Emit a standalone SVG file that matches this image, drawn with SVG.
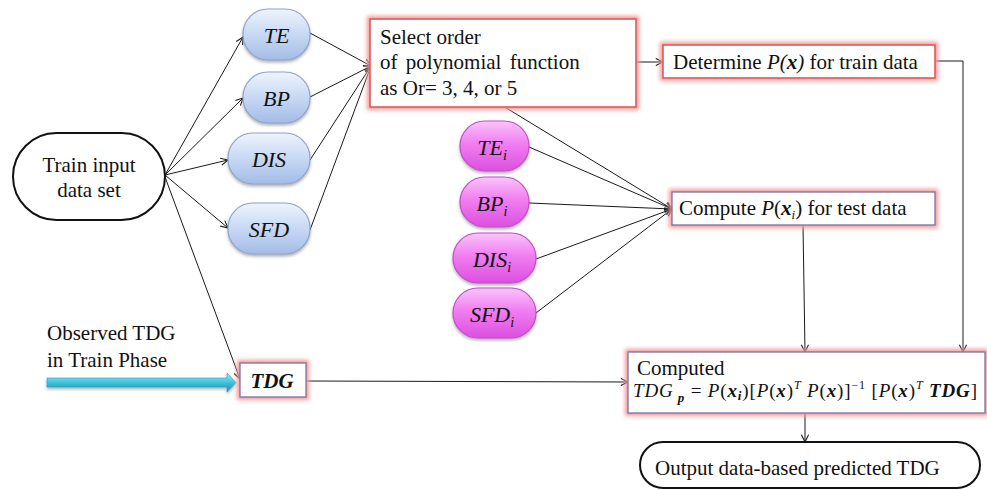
<svg xmlns="http://www.w3.org/2000/svg" width="987" height="490" viewBox="0 0 987 490" font-family="'Liberation Serif', 'Times New Roman', Times, 'DejaVu Serif', serif">
  <defs>
    <style>
      text { font-family: 'Liberation Serif', 'Times New Roman', Times, 'DejaVu Serif', serif; fill: #111; }
      .lbl { font-size: 21px; }
      .var { font-size: 22px; font-style: italic; text-anchor: middle; }
      .it { font-style: italic; }
      .bi { font-style: italic; font-weight: bold; }
      .edge { fill: none; stroke: #1a1a1a; stroke-width: 1; }
      .halo { fill: none; stroke: #f29a9a; stroke-width: 6; filter: url(#blur); }
      .boxR { fill: #fff; stroke: #dd5b5b; stroke-width: 1.6; }
      .boxP { fill: #fff; stroke: #7f6f9e; stroke-width: 1.3; }
      .term { fill: #fff; stroke: #111; stroke-width: 2; }
      .pillB { fill: url(#gBlue); stroke: #8ea4cc; stroke-width: 1.2; filter: url(#shadow); }
      .pillM { fill: url(#gMag); stroke: #c24fc4; stroke-width: 1.2; filter: url(#shadow); }
    </style>
    <linearGradient id="gBlue" x1="0" y1="0" x2="0" y2="1">
      <stop offset="0" stop-color="#eef4fd"/>
      <stop offset="0.45" stop-color="#cbdbf5"/>
      <stop offset="1" stop-color="#a3bce6"/>
    </linearGradient>
    <linearGradient id="gMag" x1="0" y1="0" x2="0" y2="1">
      <stop offset="0" stop-color="#fbc4fb"/>
      <stop offset="0.45" stop-color="#f17ef1"/>
      <stop offset="1" stop-color="#dc4fdf"/>
    </linearGradient>
    <linearGradient id="gCyan" x1="0" y1="0" x2="0" y2="1">
      <stop offset="0" stop-color="#a6ecf7"/>
      <stop offset="0.5" stop-color="#3fc2de"/>
      <stop offset="1" stop-color="#1f8fb0"/>
    </linearGradient>
    <filter id="blur" x="-20%" y="-40%" width="140%" height="180%">
      <feGaussianBlur stdDeviation="2.2"/>
    </filter>
    <filter id="shadow" x="-20%" y="-20%" width="140%" height="150%">
      <feDropShadow dx="0" dy="2" stdDeviation="1.5" flood-color="#555" flood-opacity="0.45"/>
    </filter>
    <marker id="arr" viewBox="0 0 10 10" refX="9" refY="5" markerWidth="9" markerHeight="9" markerUnits="userSpaceOnUse" orient="auto">
      <path d="M1,1 L9,5 L1,9" fill="none" stroke="#1a1a1a" stroke-width="1.2"/>
    </marker>
  </defs>

  <!-- connectors -->
  <g id="connectors">
    <line class="edge" x1="165" y1="175" x2="243" y2="37" marker-end="url(#arr)"/>
    <line class="edge" x1="165" y1="175" x2="243" y2="98" marker-end="url(#arr)"/>
    <line class="edge" x1="165" y1="175" x2="228" y2="160" marker-end="url(#arr)"/>
    <line class="edge" x1="165" y1="175" x2="228" y2="228" marker-end="url(#arr)"/>
    <line class="edge" x1="165" y1="177" x2="240" y2="379" marker-end="url(#arr)"/>

    <line class="edge" x1="310" y1="33" x2="371" y2="66" marker-end="url(#arr)"/>
    <line class="edge" x1="310" y1="97" x2="371" y2="66" marker-end="url(#arr)"/>
    <line class="edge" x1="310" y1="160" x2="371" y2="66" marker-end="url(#arr)"/>
    <line class="edge" x1="310" y1="230" x2="371" y2="66" marker-end="url(#arr)"/>

    <line class="edge" x1="636" y1="62" x2="663" y2="62" marker-end="url(#arr)"/>
    <polyline class="edge" points="935,61 963,61 963,352" marker-end="url(#arr)"/>

    <line class="edge" x1="503" y1="106" x2="672" y2="209" marker-end="url(#arr)"/>
    <line class="edge" x1="529" y1="147" x2="672" y2="209" marker-end="url(#arr)"/>
    <line class="edge" x1="529" y1="203" x2="672" y2="209" marker-end="url(#arr)"/>
    <line class="edge" x1="536" y1="259" x2="672" y2="209" marker-end="url(#arr)"/>
    <line class="edge" x1="536" y1="313" x2="672" y2="209" marker-end="url(#arr)"/>

    <line class="edge" x1="803" y1="225" x2="805" y2="352" marker-end="url(#arr)"/>
    <line class="edge" x1="306" y1="381" x2="628" y2="382" marker-end="url(#arr)"/>
    <line class="edge" x1="805" y1="413" x2="805" y2="442" marker-end="url(#arr)"/>

    <!-- thick input arrow for the observed TDG -->
    <path d="M47,378 L227,378 L227,373 L236,382.5 L227,392 L227,387 L47,387 Z" fill="url(#gCyan)" stroke="#2a9cbc" stroke-width="0.6" filter="url(#shadow)"/>
  </g>

  <!-- start terminal -->
  <g id="train-input">
    <rect class="term" x="13" y="133" width="152" height="87" rx="43.5"/>
    <text class="lbl" x="89" y="172" text-anchor="middle">Train input</text>
    <text class="lbl" x="89" y="197" text-anchor="middle">data set</text>
  </g>

  <!-- training variables -->
  <g id="te">
    <rect class="pillB" x="243" y="9" width="67" height="51" rx="25"/>
    <text class="var" x="276.5" y="43">TE</text>
  </g>
  <g id="bp">
    <rect class="pillB" x="243" y="72" width="67" height="51" rx="25"/>
    <text class="var" x="276.5" y="106">BP</text>
  </g>
  <g id="dis">
    <rect class="pillB" x="228" y="133" width="82" height="51" rx="25"/>
    <text class="var" x="269" y="167">DIS</text>
  </g>
  <g id="sfd">
    <rect class="pillB" x="228" y="203" width="82" height="51" rx="25"/>
    <text class="var" x="269" y="237">SFD</text>
  </g>

  <!-- polynomial order selection -->
  <g id="select-order">
    <rect class="halo" x="370" y="19" width="266" height="88"/>
    <rect class="boxR" x="370" y="19" width="266" height="88"/>
    <text class="lbl" x="380" y="44">Select order</text>
    <text class="lbl" x="380" y="69" word-spacing="3">of polynomial function</text>
    <text class="lbl" x="380" y="95">as Or= 3, 4, or 5</text>
  </g>

  <g id="determine">
    <rect class="halo" x="663" y="45" width="272" height="33"/>
    <rect class="boxR" x="663" y="45" width="272" height="33"/>
    <text class="lbl" x="673" y="69">Determine <tspan class="it">P(</tspan><tspan class="bi">x</tspan><tspan class="it">)</tspan>  for train data</text>
  </g>

  <!-- test variables -->
  <g id="te-i">
    <rect class="pillM" x="460" y="121" width="69" height="50" rx="25"/>
    <text class="var" x="492" y="155">TE<tspan font-size="14" dy="5">i</tspan></text>
  </g>
  <g id="bp-i">
    <rect class="pillM" x="460" y="177" width="69" height="50" rx="25"/>
    <text class="var" x="492" y="211">BP<tspan font-size="14" dy="5">i</tspan></text>
  </g>
  <g id="dis-i">
    <rect class="pillM" x="453" y="233" width="83" height="50" rx="25"/>
    <text class="var" x="492" y="267">DIS<tspan font-size="14" dy="5">i</tspan></text>
  </g>
  <g id="sfd-i">
    <rect class="pillM" x="453" y="288" width="83" height="50" rx="25"/>
    <text class="var" x="492" y="322">SFD<tspan font-size="14" dy="5">i</tspan></text>
  </g>

  <g id="compute">
    <rect class="halo" x="672" y="192" width="263" height="33"/>
    <rect class="boxP" x="672" y="192" width="263" height="33"/>
    <text class="lbl" x="679" y="215">Compute <tspan class="it">P</tspan>(<tspan class="bi">x</tspan><tspan class="it" font-size="13" dy="4">i</tspan><tspan dy="-4">) for test data</tspan></text>
  </g>

  <!-- observed target -->
  <g id="observed-label">
    <text class="lbl" x="47" y="340">Observed TDG</text>
    <text class="lbl" x="47" y="367">in Train Phase</text>
  </g>
  <g id="tdg">
    <rect class="halo" x="240" y="363" width="66" height="34"/>
    <rect class="boxP" x="240" y="363" width="66" height="34"/>
    <text class="bi" x="272" y="388" font-size="21" text-anchor="middle">TDG</text>
  </g>

  <!-- prediction -->
  <g id="computed">
    <rect class="halo" x="628" y="352" width="357" height="61"/>
    <rect class="boxP" x="628" y="352" width="357" height="61"/>
    <text class="lbl" x="637" y="375">Computed</text>
    <text x="633" y="397" font-size="19" textLength="344" lengthAdjust="spacing"><tspan class="it">TDG</tspan><tspan class="bi" font-size="13" dy="5"> p</tspan><tspan dy="-5"> = </tspan><tspan class="it">P</tspan>(<tspan class="bi">x</tspan><tspan class="bi" font-size="13" dy="3">i</tspan><tspan dy="-3">)[</tspan><tspan class="it">P</tspan>(<tspan class="bi">x</tspan>)<tspan class="it" font-size="12" dy="-8">T</tspan><tspan dy="8"> </tspan><tspan class="it">P</tspan>(<tspan class="bi">x</tspan>)]<tspan font-size="12" dy="-8">−1</tspan><tspan dy="8"> [</tspan><tspan class="it">P</tspan>(<tspan class="bi">x</tspan>)<tspan class="it" font-size="12" dy="-8">T</tspan><tspan dy="8"> </tspan><tspan class="bi">TDG</tspan>]</text>
  </g>

  <g id="output">
    <rect class="term" x="640" y="442" width="340" height="46" rx="23"/>
    <text class="lbl" x="655" y="475">Output data-based predicted TDG</text>
  </g>
</svg>
